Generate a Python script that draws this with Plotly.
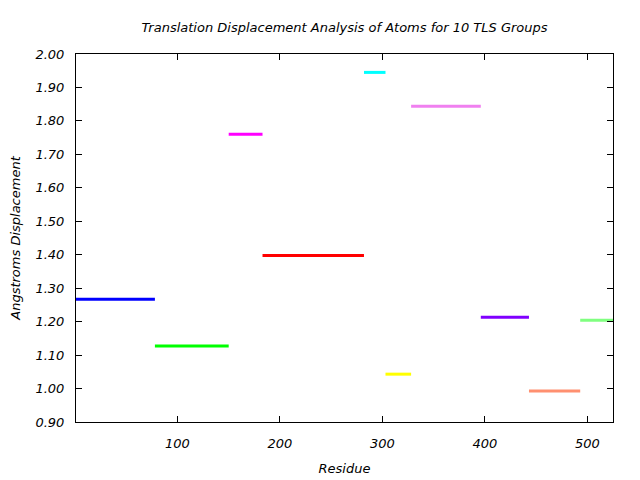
import plotly.graph_objects as go

# TLS group residue ranges and translation displacement values
group_start = [1, 78, 150, 183, 282, 303, 328, 396, 443, 493]
group_end = [78, 150, 183, 282, 303, 328, 396, 443, 493, 525]
displacement = [1.267, 1.127, 1.760, 1.398, 1.945, 1.043, 1.844, 1.213, 0.993, 1.204]
colors = ["#0000ff", "#00ff00", "#ff00ff", "#ff0000", "#00ffff",
          "#ffff00", "#f080f0", "#8000ff", "#ff9070", "#80ff80"]

y_ticks = [0.9, 1.0, 1.1, 1.2, 1.3, 1.4, 1.5, 1.6, 1.7, 1.8, 1.9, 2.0]
x_ticks = [100, 200, 300, 400, 500]

font_main = dict(family="DejaVu Sans", size=13, color="#000000", style="italic")

fig = go.Figure()
for s, e, v, c in zip(group_start, group_end, displacement, colors):
    fig.add_trace(go.Scatter(x=[s, e], y=[v, v], mode="lines",
                             line=dict(color=c, width=3), showlegend=False,
                             hoverinfo="skip"))

# page body adds an 8px offset, so margins are trimmed to compensate
fig.update_layout(
    width=640, height=480,
    margin=dict(l=68, r=35, t=46, b=66, autoexpand=False),
    paper_bgcolor="white", plot_bgcolor="white",
    font=font_main,
    title=dict(text="Translation Displacement Analysis of Atoms for 10 TLS Groups",
               x=0.5, xanchor="center", xref="paper",
               y=1 - 19 / 480, yanchor="middle",
               font=dict(family="DejaVu Sans", size=13, style="italic")),
)
fig.update_xaxes(range=[1, 525], tickvals=x_ticks, ticks="inside", ticklen=6,
                 tickcolor="black", mirror="ticks", showline=True, linecolor="black",
                 linewidth=1, showgrid=False, zeroline=False,
                 title=dict(text="Residue", standoff=14, font=font_main),
                 ticklabelstandoff=9)
fig.update_yaxes(range=[0.9, 2.0], tickvals=y_ticks, tickformat=".2f",
                 ticks="inside", ticklen=6, tickcolor="black", mirror="ticks",
                 showline=True, linecolor="black", linewidth=1, showgrid=False,
                 zeroline=False,
                 title=dict(text="Angstroms Displacement", standoff=15, font=font_main),
                 ticklabelstandoff=8)

fig.write_html("out.html")
